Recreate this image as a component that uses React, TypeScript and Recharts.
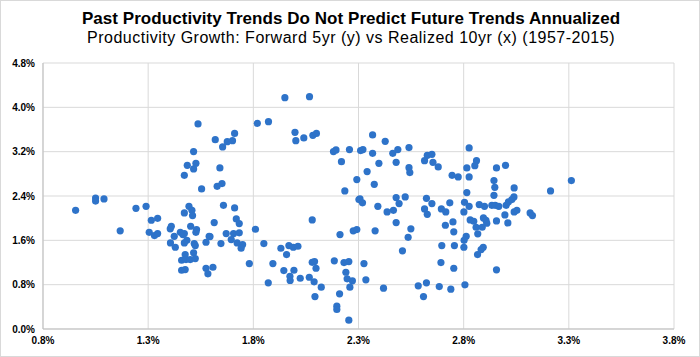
import React from 'react';
import { ScatterChart, Scatter, XAxis, YAxis, CartesianGrid } from 'recharts';

const title = 'Past Productivity Trends Do Not Predict Future Trends Annualized';
const subtitle = 'Productivity Growth: Forward 5yr (y) vs Realized 10yr (x) (1957-2015)';

const xTicks = [0.8, 1.3, 1.8, 2.3, 2.8, 3.3, 3.8];
const yTicks = [0, 0.8, 1.6, 2.4, 3.2, 4.0, 4.8];

// Realized 10yr productivity growth (x, %)
const realized10yr = [
  1.537, 1.516, 1.486, 1.527, 1.516, 1.472, 1.554, 1.050, 1.050, 1.090,
  0.955, 1.242, 1.290, 1.315, 1.345, 1.167, 1.305, 1.330, 1.345, 1.405,
  1.410, 1.424, 1.406, 1.429, 1.453, 1.465, 1.472, 1.472, 1.494, 1.508,
  1.511, 1.502, 1.530, 1.527, 1.484, 1.472, 1.519, 1.524, 1.476, 1.516,
  1.459, 1.480, 1.500, 1.524, 1.459, 1.476, 1.575, 1.590, 1.575, 1.584,
  1.950, 2.067, 1.819, 1.872, 1.711, 1.619, 1.676, 1.701, 1.654, 1.998,
  2.002, 2.040, 2.083, 2.100, 2.181, 2.193, 2.257, 2.310, 2.321, 2.219,
  2.341, 2.292, 2.235, 2.307, 1.641, 1.628, 1.651,
  1.658, 1.711, 1.614, 1.719, 1.733, 1.810, 1.671, 1.706, 1.733, 1.594,
  1.646, 1.695, 1.723, 1.749, 1.742, 1.850, 1.781, 1.608, 1.871, 1.893,
  1.931, 1.958, 1.969, 1.990, 2.012, 1.945, 1.993, 1.974, 1.975, 2.023,
  2.080, 2.080, 2.091, 2.098, 2.066, 2.089, 2.123, 2.093, 2.185, 2.212,
  2.231, 2.254, 2.240, 2.246, 2.271, 2.259, 2.210, 2.197, 2.197, 2.254,
  2.302, 2.319, 2.275, 2.292, 2.326, 2.335,
  2.367, 2.427, 2.367, 2.463, 2.487, 2.540, 2.397, 2.479, 2.375, 2.540,
  2.544, 2.479, 2.522, 2.623, 2.614, 2.627, 2.649, 2.654, 2.679, 2.745,
  2.774, 2.826, 2.861, 2.853, 2.815, 2.826, 2.815, 2.956, 2.999, 2.944,
  2.948, 2.944, 3.040, 3.039,
  2.392, 2.436, 2.466, 2.493, 2.479, 2.379, 2.549, 2.536, 2.509, 2.649,
  2.614, 2.627, 2.694, 2.715, 2.734, 2.713, 2.749, 2.753, 2.696, 2.756,
  2.692, 2.753, 2.419, 2.584, 2.623, 2.609, 2.684, 2.739, 2.806, 2.804,
  2.826, 2.801, 2.831, 2.848, 2.874, 2.899, 2.894, 2.906, 2.910, 2.859,
  2.888, 2.867, 2.812, 2.802, 2.801, 2.893, 2.883, 2.866, 2.956, 2.934,
  2.950, 2.967, 3.002, 3.013, 3.029, 2.996, 2.956, 3.010, 3.040, 3.053,
  3.116, 3.127, 3.213, 3.312,
];

// Forward 5yr productivity growth (y, %)
const forward5yr = [
  3.700, 3.201, 2.953, 2.990, 2.889, 2.773, 2.528, 2.362, 2.308, 2.348,
  2.142, 2.178, 2.214, 1.962, 1.998, 1.771, 1.745, 1.686, 1.722, 1.807,
  1.854, 1.673, 1.554, 1.475, 1.745, 1.704, 1.722, 2.095, 2.214, 2.142,
  2.047, 1.854, 1.794, 1.745, 1.601, 1.554, 1.542, 1.506, 1.343, 1.374,
  1.241, 1.253, 1.253, 1.271, 1.060, 1.073, 1.565, 1.673, 1.096, 0.995,
  4.174, 4.192, 3.711, 3.741, 3.530, 3.417, 3.381, 3.399, 3.285, 3.549,
  3.399, 3.448, 3.494, 3.530, 3.201, 3.231, 3.237, 3.219, 3.237, 3.020,
  2.840, 2.696, 2.492, 2.348, 2.907, 2.575, 2.624,
  2.232, 2.185, 1.920, 1.987, 1.902, 1.800, 1.722, 1.722, 1.735, 1.668,
  1.542, 1.614, 1.554, 1.524, 1.457, 1.542, 1.181, 1.114, 0.833, 1.181,
  1.457, 1.343, 1.506, 1.475, 1.493, 1.055, 1.060, 0.952, 0.875, 0.916,
  1.969, 1.204, 1.217, 1.096, 0.934, 0.851, 0.754, 0.586, 1.230, 1.704,
  1.199, 1.217, 1.024, 0.905, 0.869, 0.754, 0.635, 0.411, 0.352, 0.159,
  2.335, 2.276, 1.771, 1.794, 1.181, 0.887,
  3.502, 3.386, 3.170, 3.170, 3.237, 3.273, 2.990, 3.008, 2.611, 2.912,
  2.822, 2.371, 2.384, 2.358, 3.038, 3.134, 3.152, 3.008, 2.925, 2.773,
  2.744, 3.267, 3.038, 2.948, 2.907, 2.744, 2.461, 2.907, 2.953, 2.678,
  2.557, 2.413, 2.546, 2.384,
  2.214, 2.113, 2.142, 2.263, 1.920, 1.771, 1.807, 1.655, 1.410, 2.263,
  2.167, 2.070, 2.167, 2.113, 2.276, 1.872, 1.933, 1.753, 1.506, 1.506,
  1.199, 1.096, 0.736, 0.779, 0.833, 0.586, 0.766, 0.718, 0.797, 2.286,
  2.214, 2.113, 1.969, 1.944, 2.245, 2.214, 2.005, 1.962, 1.908, 1.836,
  1.836, 1.717, 1.673, 1.601, 1.475, 1.475, 1.433, 1.343, 1.067, 2.232,
  2.232, 2.214, 2.232, 2.294, 2.335, 2.059, 1.951, 1.915, 2.113, 2.142,
  2.095, 2.047, 2.492, 2.678,
];

const data = realized10yr.map((x, i) => ({ x, y: forward5yr[i] }));

const FONT = '"Liberation Sans", Arial, sans-serif';
const DOT = '#2e73c9';

const Dot = (props: any) => (
  <circle cx={props.cx} cy={props.cy} r={3.6} fill={DOT} />
);

export default function App() {
  return (
    <div
      style={{
        position: 'absolute',
        left: 0,
        top: 0,
        width: 700,
        height: 357,
        background: '#fff',
        border: '1px solid #d9d9d9',
        boxSizing: 'border-box',
        fontFamily: FONT,
      }}
    >
      <div
        style={{
          position: 'absolute',
          left: 0,
          width: 700,
          top: 8,
          textAlign: 'center',
          fontWeight: 'bold',
          fontSize: 17,
          letterSpacing: 0.05,
          lineHeight: '19px',
          color: '#000',
        }}
      >
        {title}
      </div>
      <div
        style={{
          position: 'absolute',
          left: 0,
          width: 700,
          top: 27,
          textAlign: 'center',
          fontSize: 16,
          letterSpacing: 0.5,
          lineHeight: '19px',
          color: '#000',
        }}
      >
        {subtitle}
      </div>
      <div style={{ position: 'absolute', left: -1, top: -1 }}>
        <ScatterChart
          width={700}
          height={357}
          margin={{ top: 63, right: 26, bottom: 0, left: 0 }}
        >
          <CartesianGrid stroke="#d9d9d9" strokeWidth={1} />
          <XAxis
            type="number"
            dataKey="x"
            domain={[0.8, 3.8]}
            ticks={xTicks}
            interval={0}
            height={28}
            tickLine={false}
            axisLine={{ stroke: '#bfbfbf' }}
            tickFormatter={(v: number) => v.toFixed(1) + '%'}
            tick={{ fontSize: 10, fontWeight: 'bold', fill: '#000', fontFamily: FONT }}
            allowDataOverflow
          />
          <YAxis
            type="number"
            dataKey="y"
            domain={[0, 4.8]}
            ticks={yTicks}
            interval={0}
            width={43}
            tickLine={false}
            axisLine={{ stroke: '#bfbfbf' }}
            tickFormatter={(v: number) => v.toFixed(1) + '%'}
            tick={{ fontSize: 10, fontWeight: 'bold', fill: '#000', fontFamily: FONT }}
            allowDataOverflow
          />
          <Scatter data={data} shape={Dot} isAnimationActive={false} />
        </ScatterChart>
      </div>
    </div>
  );
}
